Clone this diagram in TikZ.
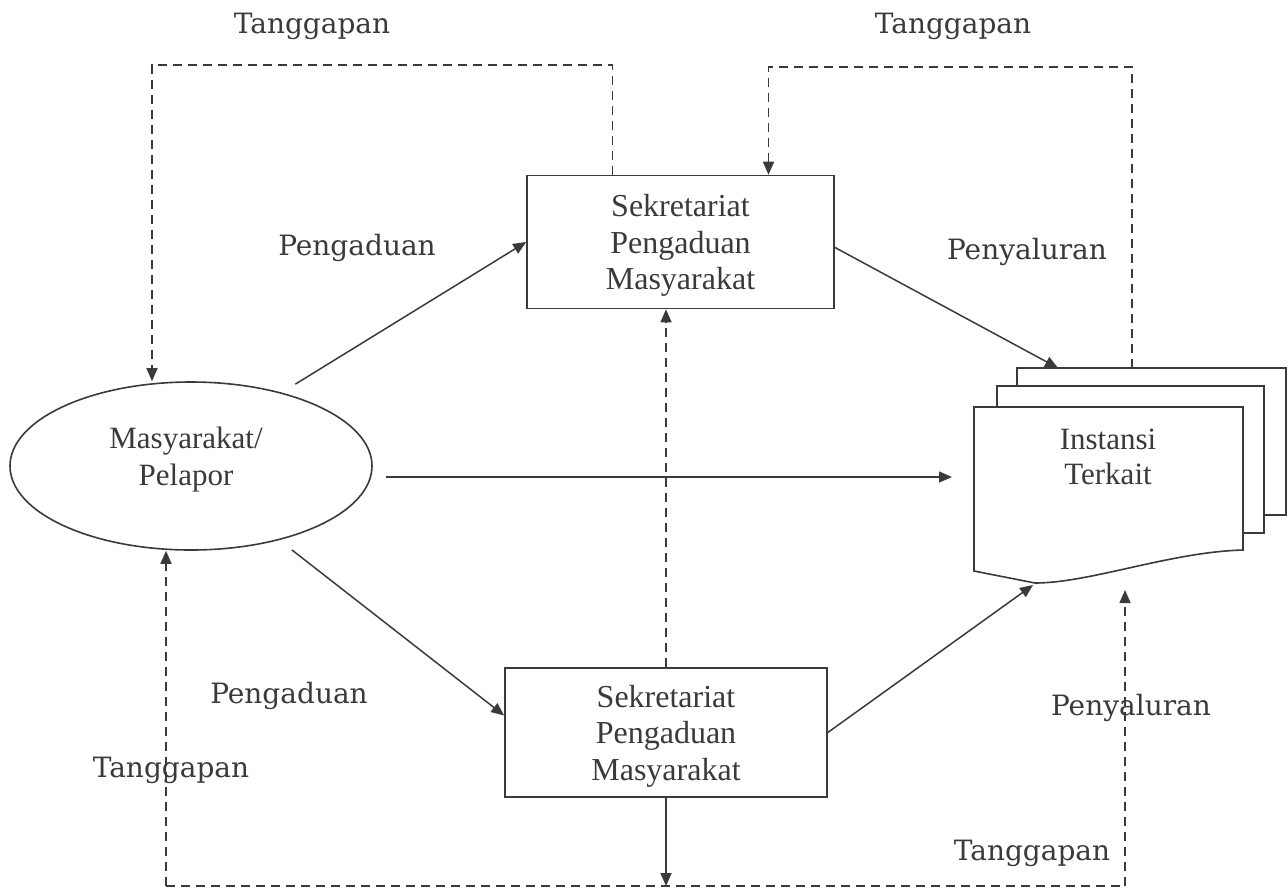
\documentclass[tikz,border=0pt]{standalone}
\usepackage{fontspec}
\setmainfont{Liberation Serif}
\newfontfamily\lblfont{DejaVu Serif}
\usetikzlibrary{arrows.meta,shapes.geometric}
\definecolor{ink}{HTML}{3A3A3A}

\begin{document}
\begin{tikzpicture}
      [x=0.5pt,y=-0.5pt,
       every node/.style={text=ink},
       lbl/.style={font=\lblfont\fontsize{14}{16}\selectfont, anchor=base},
       teks/.style={align=center, font=\fontsize{16}{18.2}\selectfont},
       kotak/.style={teks, draw=ink, line width=0.8pt, fill=white, inner sep=0pt, text depth=0pt},
       lembar/.style={draw=ink, line width=0.8pt, fill=white},
       panah/.style={draw=ink, line width=0.75pt, -{Triangle[length=6.5pt,width=5.5pt]}},
       putus/.style={panah, dash pattern=on 4.5pt off 3pt}]
      \useasboundingbox (0,0) rectangle (1288,895);

      \node [ellipse, draw=ink, line width=0.8pt, minimum width=181pt, minimum height=84pt,
             inner sep=0pt] (mas) at (191,466) {};
      \node [teks, font=\fontsize{15.5}{18.5}\selectfont] (masTxt) at (186,460) {Masyarakat/\\Pelapor};
      \node [kotak, minimum width=153.5pt, minimum height=66.5pt] (spm1) at (680.5,242) {Sekretariat\\Pengaduan\\Masyarakat};
      \node [kotak, minimum width=161pt, minimum height=64.5pt] (spm2) at (666,732.5) {Sekretariat\\Pengaduan\\Masyarakat};

      \draw [lembar] (1017,368) rectangle (1286,515);
      \draw [lembar] (997,386) rectangle (1264,533);
      \draw [lembar] (974,407) -- (1243,407) -- (1243,550)
            .. controls (1170,552) and (1090,583) .. (1035,583) -- (974,571) -- cycle;
      \node [teks, font=\fontsize{15.5}{17.5}\selectfont] (inst) at (1108,457) {Instansi\\Terkait};

      \coordinate (instT) at (1058,368);
      \coordinate (instTR) at (1132,368);
      \coordinate (instL) at (952,477);
      \coordinate (instB) at (1033,585);
      \coordinate (instU) at (1125,590);
      \coordinate (tl) at (152,65);
      \coordinate (tr) at (1132,67);
      \coordinate (bl) at (166,886);
      \coordinate (br) at (1125,886);

      \node [lbl] (tg1) at (312,33) {Tanggapan};
      \node [lbl] (tg2) at (953,33) {Tanggapan};
      \node [lbl] (pg1) at (357,255) {Pengaduan};
      \node [lbl] (py1) at (1027,259) {Penyaluran};
      \node [lbl] (pg2) at (289,703) {Pengaduan};
      \node [lbl] (py2) at (1131,715) {Penyaluran};
      \node [lbl] (tg3) at (171,777) {Tanggapan};
      \node [lbl] (tg4) at (1032,860) {Tanggapan};

      \draw [panah, shorten <=8pt] (mas.39) -- (spm1.west);
      \draw [panah, shorten <=6.5pt] (mas.east |- instL) -- (instL);
      \draw [panah, shorten <=8pt] (mas.-40) -- (spm2.174);
      \draw [panah] (spm1.-2) -- (instT);
      \draw [panah] (spm2.east) -- (instB);

      \draw [putus] (spm2.north) -- (spm2.north |- spm1.south);
      \draw [putus] ([xshift=-34pt]spm1.north) |- (tl) -- (mas.north -| tl);
      \draw [putus] (instTR) -- (tr) -| ([xshift=44pt]spm1.north);
      \draw [panah] (spm2.south) -- (spm2.south |- bl);
      \draw [putus, -] (bl) -- (br);
      \draw [putus] (bl) -- (mas.south -| bl);
      \draw [putus] (br) -- (instU);
    \end{tikzpicture}
\end{document}
